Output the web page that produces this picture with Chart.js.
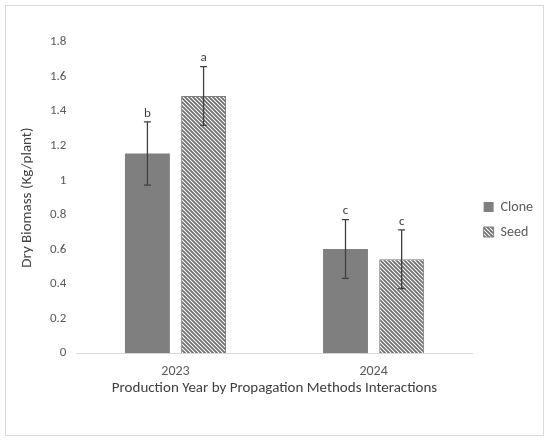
<!DOCTYPE html>
<html>
<head>
<meta charset="utf-8">
<script src="https://cdn.jsdelivr.net/npm/chart.js@4.4.0/dist/chart.umd.min.js"></script>
<style>
  html, body { margin: 0; padding: 0; background: #fff; }
  #wrap { position: relative; width: 550px; height: 442px; }
</style>
</head>
<body>
<div id="wrap"><canvas id="chart" width="550" height="442"></canvas></div>
<script>
// data
var years = ['2023', '2024'];
var cloneMeans = [1.155, 0.603];
var seedMeans = [1.488, 0.543];
var cloneErr = [0.183, 0.17];
var seedErr = [0.17, 0.17];
var cloneLetters = ['b', 'c'];
var seedLetters = ['a', 'c'];
var yTicks = [0, 0.2, 0.4, 0.6, 0.8, 1, 1.2, 1.4, 1.6, 1.8];

var FONT = 'Carlito, Calibri, Lato, sans-serif';

//! hatch for Seed bars
function makeHatch() {
    var c = document.createElement('canvas');
    c.width = 4; c.height = 4;
    var g = c.getContext('2d');
    g.fillStyle = '#ffffff';
    g.fillRect(0, 0, 4, 4);
    g.strokeStyle = '#6f6f6f';
    g.lineWidth = 1.8;
    g.beginPath();
    g.moveTo(-1, -1); g.lineTo(5, 5);
    g.moveTo(-1, 3); g.lineTo(1, 5);
    g.moveTo(3, -1); g.lineTo(5, 1);
    g.stroke();
    return g.createPattern(c, 'repeat');
}

var ctx = document.getElementById('chart').getContext('2d');
var hatch = makeHatch();

//! frame around the whole figure
var framePlugin = {
    id: 'frame',
    beforeDraw: function (chart) {
        var c = chart.ctx;
        c.save();
        c.fillStyle = '#fff';
        c.fillRect(0, 0, chart.width, chart.height);
        c.strokeStyle = '#d9d9d9';
        c.lineWidth = 1;
        c.strokeRect(5.5, 5.5, 538, 430);
        c.restore();
    }
};

//! error bars + letters
var errorPlugin = {
    id: 'errbars',
    afterDatasetsDraw: function (chart) {
        var c = chart.ctx;
        var y = chart.scales.y;
        c.save();
        chart.data.datasets.forEach(function (ds, di) {
            var meta = chart.getDatasetMeta(di);
            meta.data.forEach(function (bar, i) {
                var v = ds.data[i];
                var e = ds.errors[i];
                var top = y.getPixelForValue(v + e);
                var bot = y.getPixelForValue(v - e);
                c.strokeStyle = '#404040';
                c.lineWidth = 1.3;
                c.beginPath();
                c.moveTo(bar.x, top); c.lineTo(bar.x, bot);
                c.moveTo(bar.x - 3.5, top); c.lineTo(bar.x + 3.5, top);
                c.moveTo(bar.x - 3.5, bot); c.lineTo(bar.x + 3.5, bot);
                c.stroke();
                c.fillStyle = '#404040';
                c.font = '13px ' + FONT;
                c.textAlign = 'center';
                c.textBaseline = 'bottom';
                c.fillText(ds.letters[i], bar.x, top - 2);
            });
        });
        c.restore();
    }
};

var biomassChart = new Chart(ctx, {
    type: 'bar',
    data: {
        labels: years,
        datasets: [
            {
                label: 'Clone',
                data: cloneMeans,
                errors: cloneErr,
                letters: cloneLetters,
                backgroundColor: '#7f7f7f',
                borderColor: '#7f7f7f',
                borderWidth: 0,
                categoryPercentage: 0.567,
                barPercentage: 0.8
            },
            {
                label: 'Seed',
                data: seedMeans,
                errors: seedErr,
                letters: seedLetters,
                backgroundColor: hatch,
                borderColor: '#7f7f7f',
                borderWidth: 1,
                categoryPercentage: 0.567,
                barPercentage: 0.8
            }]
    },
    options: {
        responsive: false,
        animation: false,
        layout: { padding: { left: 18, right: 7, top: 42, bottom: 45 } },
        plugins: {
            legend: {
                position: 'right',
                labels: {
                    font: { family: FONT, size: 14 },
                    color: '#595959',
                    boxWidth: 10,
                    boxHeight: 10,
                    padding: 11
                }
            },
            tooltip: { enabled: false }
        },
        scales: {
            x: {
                grid: { display: false, drawTicks: false },
                border: { display: true, color: '#d9d9d9', width: 1 },
                ticks: { font: { family: FONT, size: 14 }, color: '#595959', padding: 10 },
                title: {
                    display: true,
                    text: 'Production Year by Propagation Methods Interactions',
                    font: { family: FONT, size: 15 },
                    color: '#404040',
                    padding: { top: -11, bottom: 0 }
                }
            },
            y: {
                min: 0,
                max: 1.8,
                afterBuildTicks: function (axis) {
                    axis.ticks = yTicks.map(function (v) { return { value: v }; });
                },
                grid: { display: false, drawTicks: false },
                border: { display: false },
                ticks: {
                    font: { family: FONT, size: 13 },
                    color: '#595959',
                    padding: 10,
                    callback: function (v) { return String(Math.round(v * 10) / 10); }
                },
                title: {
                    display: true,
                    text: 'Dry Biomass (Kg/plant)',
                    font: { family: FONT, size: 15 },
                    color: '#404040',
                    padding: { top: 0, bottom: 4 }
                }
            }
        }
    },
    plugins: [framePlugin, errorPlugin]
});
</script>
</body>
</html>
